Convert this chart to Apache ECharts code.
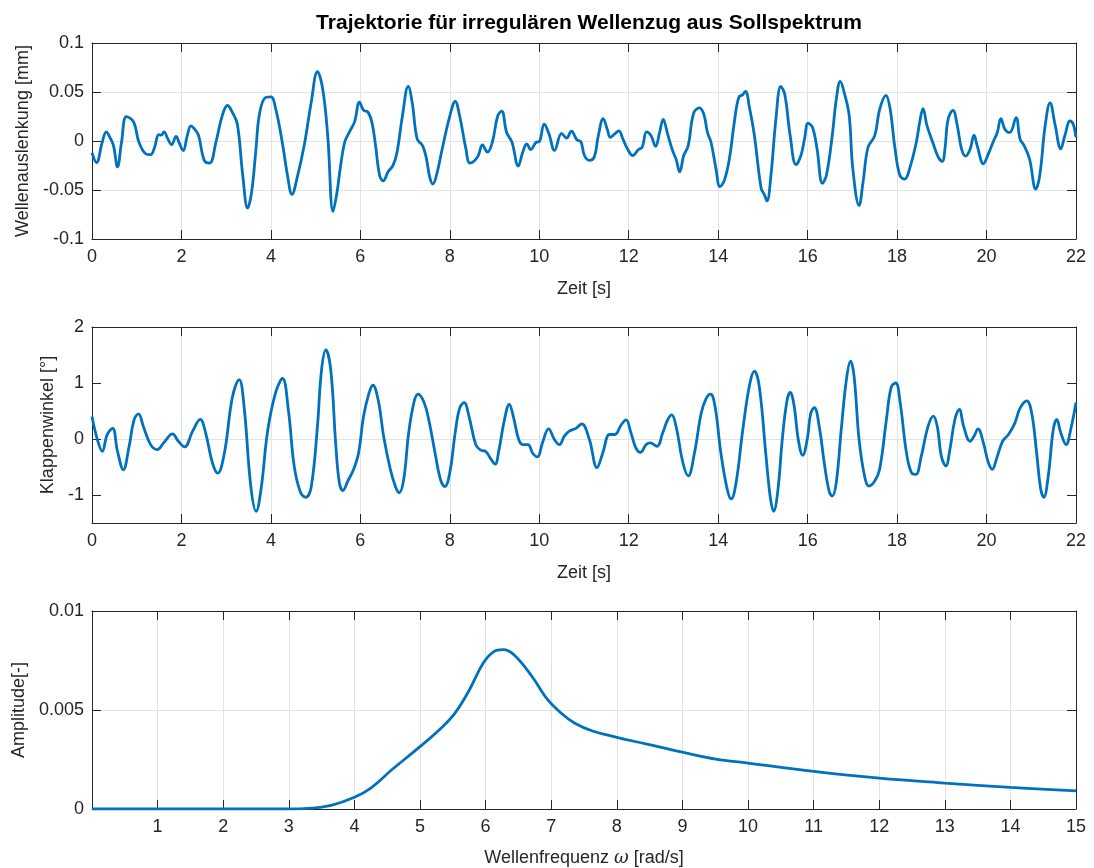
<!DOCTYPE html>
<html><head><meta charset="utf-8">
<script src="https://cdn.jsdelivr.net/npm/echarts@6/dist/echarts.min.js"></script>
<style>html,body{margin:0;padding:0;background:#fff}#c{width:1094px;height:868px}</style>
</head><body><div id="c"></div>
<script>
// ---- Data ----
const waveT = [0,0.10,0.23,0.32,0.40,0.48,0.57,0.66,0.77,0.93,1.05,1.20,1.31,1.40,1.49,1.55,1.61,1.69,1.78,1.88,1.95,2.04,2.13,2.21,2.28,2.38,2.51,2.63,2.77,2.92,3.03,3.14,3.25,3.37,3.48,3.57,3.66,3.75,3.89,4.00,4.11,4.26,4.37,4.47,4.60,4.75,4.90,5.04,5.16,5.27,5.39,5.48,5.55,5.65,5.75,5.87,5.98,6.07,6.17,6.26,6.34,6.43,6.51,6.62,6.73,6.82,6.94,7.07,7.16,7.27,7.39,7.47,7.55,7.62,7.72,7.83,8.00,8.12,8.22,8.36,8.45,8.62,8.73,8.84,8.95,9.07,9.16,9.27,9.39,9.53,9.63,9.72,9.81,9.93,10.00,10.11,10.22,10.34,10.50,10.61,10.72,10.84,10.93,11.01,11.12,11.23,11.32,11.43,11.52,11.59,11.68,11.78,11.87,11.96,12.09,12.22,12.30,12.40,12.50,12.60,12.69,12.77,12.87,12.98,13.06,13.14,13.23,13.33,13.45,13.58,13.68,13.76,13.84,13.95,14.04,14.14,14.25,14.36,14.46,14.55,14.61,14.70,14.81,14.96,15.03,15.09,15.18,15.29,15.40,15.49,15.61,15.74,15.85,15.93,16.01,16.11,16.21,16.33,16.42,16.55,16.64,16.73,16.83,16.93,17.01,17.15,17.24,17.35,17.50,17.61,17.75,17.84,17.95,18.06,18.17,18.28,18.43,18.51,18.58,18.67,18.81,18.92,19.01,19.07,19.14,19.25,19.34,19.44,19.53,19.63,19.72,19.79,19.93,20.04,20.15,20.24,20.32,20.41,20.52,20.66,20.75,20.84,20.96,21.10,21.19,21.31,21.42,21.53,21.66,21.75,21.87,21.94,22.00];
const waveV = [-0.012,-0.022,-0.001,0.0094,0.0037,-0.0047,-0.0265,-0.0013,0.0248,0.0195,-0.0013,-0.013,-0.014,-0.0064,0.0064,0.006,0.0094,0.0027,-0.0037,0.0047,-0.002,-0.0097,0.0054,0.0154,0.0128,0.006,-0.0198,-0.0225,-0.0013,0.0272,0.0362,0.029,0.0171,-0.0349,-0.0685,-0.0517,-0.0114,0.029,0.0446,0.045,0.0322,-0.003,-0.0349,-0.0544,-0.0349,-0.003,0.039,0.0708,0.0524,0.0054,-0.0718,-0.0517,-0.028,-0.0013,0.0087,0.0195,0.0396,0.0315,0.0295,0.0188,-0.0047,-0.0349,-0.0406,-0.0315,-0.0248,-0.0114,0.0255,0.0557,0.039,0.002,-0.0047,-0.0164,-0.0366,-0.044,-0.0315,-0.008,0.0255,0.0403,0.0255,-0.008,-0.0225,-0.0164,-0.004,-0.0114,-0.0013,0.0255,0.0305,0.0087,-0.0013,-0.0255,-0.0114,-0.003,-0.0087,-0.0013,-0.0007,0.0171,0.007,-0.0097,0.0077,0.003,0.0101,0.0013,-0.0007,-0.0148,-0.0198,-0.0164,0.0054,0.0228,0.0121,0.0037,0.007,0.0104,0.002,-0.007,-0.0148,-0.0087,-0.0064,0.0094,0.0054,-0.0054,0.0087,0.0221,0.007,-0.0097,-0.0188,-0.0315,-0.0148,-0.0047,0.0282,0.0339,0.0272,0.0087,-0.0013,-0.0282,-0.0466,-0.0399,-0.0181,0.0188,0.0446,0.0473,0.0507,0.0339,0.0054,-0.0483,-0.0544,-0.0611,-0.0349,0.0221,0.0557,0.0473,0.0054,-0.0242,-0.0148,0.002,0.0181,0.0138,-0.008,-0.0433,-0.0349,0.0054,0.0423,0.0607,0.0473,0.0255,-0.0282,-0.0658,-0.0416,-0.0064,0.0054,0.0322,0.0466,0.0339,-0.0064,-0.0349,-0.0389,-0.0282,-0.0013,0.0205,0.0329,0.0154,-0.003,-0.0164,-0.0208,-0.008,0.0221,0.0312,0.0171,-0.008,-0.0154,-0.0087,0.006,-0.0047,-0.0232,-0.0131,-0.0007,0.0087,0.0228,0.0121,0.0087,0.0238,0.002,-0.0047,-0.0181,-0.049,-0.0349,0.0154,0.039,0.0171,-0.008,0.0054,0.0205,0.0171,0.0037];

const flapT = [0,0.12,0.23,0.34,0.46,0.57,0.70,0.83,0.94,1.04,1.15,1.31,1.46,1.61,1.80,1.93,2.07,2.25,2.42,2.54,2.69,2.81,2.96,3.14,3.29,3.40,3.55,3.67,3.78,3.93,4.11,4.26,4.39,4.52,4.66,4.78,4.90,5.04,5.13,5.23,5.34,5.45,5.53,5.61,5.72,5.85,5.96,6.07,6.19,6.28,6.40,6.52,6.67,6.79,6.87,6.97,7.08,7.20,7.29,7.42,7.53,7.67,7.79,7.89,8.00,8.12,8.22,8.32,8.43,8.58,8.69,8.80,8.92,9.01,9.10,9.22,9.33,9.42,9.54,9.63,9.75,9.85,9.96,10.07,10.21,10.34,10.45,10.56,10.67,10.82,10.95,11.12,11.29,11.42,11.57,11.69,11.83,11.94,12.05,12.16,12.26,12.39,12.48,12.63,12.76,12.87,12.96,13.06,13.21,13.33,13.47,13.62,13.73,13.83,13.93,14.06,14.20,14.29,14.40,14.55,14.70,14.81,14.92,15.07,15.17,15.24,15.33,15.44,15.54,15.61,15.70,15.79,15.89,15.99,16.07,16.15,16.26,16.37,16.48,16.55,16.64,16.75,16.87,16.96,17.04,17.15,17.28,17.37,17.50,17.61,17.76,17.87,17.97,18.07,18.21,18.32,18.42,18.54,18.69,18.81,18.90,18.99,19.09,19.18,19.29,19.39,19.49,19.63,19.72,19.81,19.93,20.04,20.13,20.22,20.36,20.49,20.63,20.75,20.90,21.01,21.12,21.21,21.28,21.38,21.49,21.57,21.66,21.78,21.88,22.00];
const flapV = [0.40,-0.01,-0.22,0.08,0.19,-0.22,-0.55,-0.13,0.34,0.45,0.22,-0.10,-0.19,-0.06,0.09,-0.04,-0.14,0.14,0.35,0.11,-0.42,-0.61,-0.25,0.75,1.06,0.58,-0.84,-1.29,-0.89,0.16,0.84,1.08,0.52,-0.48,-0.95,-1.04,-0.86,0.22,1.22,1.59,1.22,-0.10,-0.78,-0.92,-0.75,-0.54,-0.25,0.40,0.81,0.96,0.69,0.05,-0.54,-0.86,-0.96,-0.72,0.11,0.66,0.80,0.66,0.34,-0.25,-0.72,-0.85,-0.60,0.11,0.55,0.65,0.40,-0.10,-0.20,-0.22,-0.36,-0.45,-0.19,0.34,0.62,0.40,-0.01,-0.10,-0.10,-0.25,-0.32,-0.07,0.18,-0.01,-0.10,0.05,0.14,0.19,0.27,-0.01,-0.51,-0.25,0.08,0.08,0.25,0.34,0.11,-0.16,-0.24,-0.10,-0.07,-0.13,0.11,0.34,0.43,0.22,-0.42,-0.66,-0.25,0.46,0.72,0.80,0.58,-0.25,-0.89,-1.07,-0.78,0.16,0.96,1.21,0.93,-0.31,-1.07,-1.29,-0.95,0.05,0.69,0.83,0.58,-0.01,-0.29,-0.01,0.46,0.56,0.22,-0.42,-0.93,-1.02,-0.78,0.16,1.08,1.39,1.11,-0.01,-0.69,-0.84,-0.75,-0.54,0.34,0.93,1.00,0.64,-0.25,-0.60,-0.63,-0.31,0.22,0.41,0.22,-0.31,-0.48,-0.19,0.34,0.53,0.22,-0.04,0.05,0.18,-0.07,-0.42,-0.54,-0.36,-0.04,0.08,0.28,0.55,0.68,0.46,-0.25,-0.89,-1.04,-0.66,0.16,0.35,0.11,-0.10,0.16,0.65];

const specW = [0,1,2,3,3.29,3.66,4.0,4.25,4.57,5.0,5.32,5.53,5.75,5.96,6.12,6.27,6.44,6.71,6.93,7.14,7.36,7.63,8.0,8.44,9.0,9.51,10,11,12,13,14,15];
const specA = [0,0,0,0,0.00003,0.0002,0.00059,0.00106,0.00198,0.00315,0.00408,0.00483,0.006,0.00735,0.00794,0.00805,0.00777,0.00668,0.00559,0.00487,0.00433,0.00394,0.00362,0.00329,0.00287,0.00252,0.00232,0.0019,0.00156,0.00131,0.00109,0.00092];

const titleText = 'Trajektorie für irregulären Wellenzug aus Sollspektrum';
const yNames = ['Wellenauslenkung [mm]', 'Klappenwinkel [°]', 'Amplitude[-]'];
const xNames = ['Zeit [s]', 'Zeit [s]', 'Wellenfrequenz {i|ω} [rad/s]'];
const flapTicks = [-1, 0, 1, 2];

// ---- Styling ----
const FONT = 'Liberation Sans, Arial, Helvetica, sans-serif';
const TXT = '#262626';
const AXC = '#262626';
const GRIDC = '#e3e3e3';
const LINEC = '#0072BD';
const FS = 18;

const zip = (a, b) => a.map((v, i) => [v, b[i]]);

const grids = [
  { left: 92, right: 18, top: 43, height: 196 },
  { left: 92, right: 18, top: 327, height: 196 },
  { left: 92, right: 18, top: 611, height: 198 }
];

function xAx(gi, min, max, interval, name, nameGap, mirror, fmt) {
  return {
    type: 'value', gridIndex: gi, min, max, interval,
    position: mirror ? 'top' : 'bottom',
    name: mirror ? '' : name, nameLocation: 'middle', nameGap,
    nameTextStyle: { color: TXT, fontSize: FS, fontFamily: FONT,
      rich: { i: { fontStyle: 'italic', fontSize: FS, fontFamily: 'DejaVu Serif', color: TXT } } },
    axisLine: { show: true, onZero: false, lineStyle: { color: AXC, width: 1 } },
    axisTick: { show: true, inside: true, length: 9, lineStyle: { color: AXC, width: 1 } },
    axisLabel: { show: !mirror, color: TXT, fontSize: FS, fontFamily: FONT, margin: 9,
      formatter: fmt || (v => String(v)), showMinLabel: true, showMaxLabel: true, hideOverlap: false },
    splitLine: { show: !mirror, lineStyle: { color: GRIDC, width: 1 } }
  };
}

function yAx(gi, min, max, interval, name, nameGap, mirror, extra) {
  const a = {
    type: 'value', gridIndex: gi, min, max, interval,
    position: mirror ? 'right' : 'left',
    name: mirror ? '' : name, nameLocation: 'middle', nameGap, nameRotate: 90,
    nameTextStyle: { color: TXT, fontSize: FS, fontFamily: FONT },
    axisLine: { show: true, onZero: false, lineStyle: { color: AXC, width: 1 } },
    axisTick: { show: true, inside: true, length: 9, lineStyle: { color: AXC, width: 1 } },
    axisLabel: { show: !mirror, color: TXT, fontSize: FS, fontFamily: FONT, margin: 8,
      showMinLabel: true, showMaxLabel: true },
    splitLine: { show: !mirror, lineStyle: { color: GRIDC, width: 1 } }
  };
  if (extra) extra(a);
  return a;
}

const flapExtra = a => {
  a.axisLabel.customValues = flapTicks;
  a.axisTick.customValues = flapTicks;
  // grid lines only at integer values (odd split-line indices from -1.5 in 0.5 steps)
  a.splitLine.lineStyle.color = ['rgba(0,0,0,0)', GRIDC];
};

const option = {
  backgroundColor: '#fff',
  animation: false,
  title: {
    text: titleText, left: 584, textAlign: 'center', top: 8,
    textStyle: { color: '#000', fontSize: 21, fontWeight: 'bold', fontFamily: FONT }
  },
  grid: grids,
  xAxis: [
    xAx(0, 0, 22, 2, xNames[0], 41, false),
    xAx(0, 0, 22, 2, '', 0, true),
    xAx(1, 0, 22, 2, xNames[1], 41, false),
    xAx(1, 0, 22, 2, '', 0, true),
    xAx(2, 0, 15, 1, xNames[2], 40, false, v => (v === 0 ? '' : String(v))),
    xAx(2, 0, 15, 1, '', 0, true)
  ],
  yAxis: [
    yAx(0, -0.1, 0.1, 0.05, yNames[0], 59, false),
    yAx(0, -0.1, 0.1, 0.05, '', 0, true),
    yAx(1, -1.5, 2, 0.5, yNames[1], 27, false, flapExtra),
    yAx(1, -1.5, 2, 0.5, '', 0, true, a => { a.axisTick.customValues = flapTicks; }),
    yAx(2, 0, 0.01, 0.005, yNames[2], 64, false),
    yAx(2, 0, 0.01, 0.005, '', 0, true)
  ],
  series: [
    { type: 'line', xAxisIndex: 0, yAxisIndex: 0, data: zip(waveT, waveV), showSymbol: false,
      smooth: 0.4, lineStyle: { color: LINEC, width: 2.8 }, clip: true },
    { type: 'line', xAxisIndex: 2, yAxisIndex: 2, data: zip(flapT, flapV), showSymbol: false,
      smooth: 0.4, lineStyle: { color: LINEC, width: 2.8 }, clip: true },
    { type: 'line', xAxisIndex: 4, yAxisIndex: 4, data: zip(specW, specA), showSymbol: false,
      smooth: 0.4, lineStyle: { color: LINEC, width: 2.8 }, clip: true }
  ]
};

const chart = echarts.init(document.getElementById('c'), null, { renderer: 'canvas' });
chart.setOption(option);
</script>
</body></html>
